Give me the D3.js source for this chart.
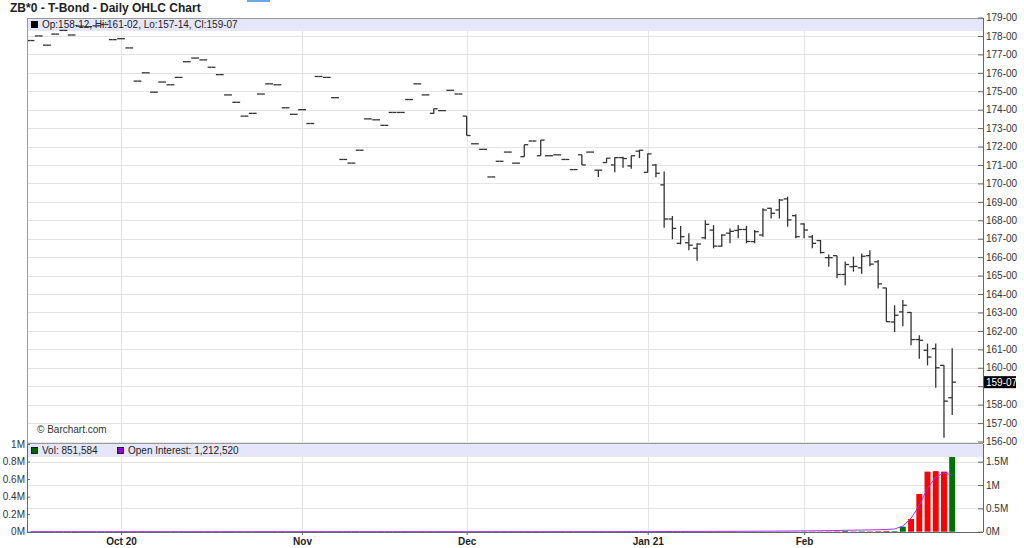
<!DOCTYPE html>
<html>
<head>
<meta charset="utf-8">
<script src="https://cdn.jsdelivr.net/npm/d3@7"></script>
<style>
  body { margin: 0; background: #fff; }
  svg text { font-family: "Liberation Sans", Arial, sans-serif; }
</style>
</head>
<body>
<div id="chart"></div>
<script>
// trading days shown on the chart
const tradeDates = [
  "2020-09-16","2020-09-17","2020-09-18","2020-09-21","2020-09-22","2020-09-23","2020-09-24","2020-09-25","2020-09-28","2020-09-29","2020-09-30",
  "2020-10-01","2020-10-02","2020-10-05","2020-10-06","2020-10-07","2020-10-08","2020-10-09","2020-10-12","2020-10-13","2020-10-14","2020-10-15",
  "2020-10-16","2020-10-19","2020-10-20","2020-10-21","2020-10-22","2020-10-23","2020-10-26","2020-10-27","2020-10-28","2020-10-29","2020-10-30",
  "2020-11-02","2020-11-03","2020-11-04","2020-11-05","2020-11-06","2020-11-09","2020-11-10","2020-11-11","2020-11-12","2020-11-13",
  "2020-11-16","2020-11-17","2020-11-18","2020-11-19","2020-11-20","2020-11-23","2020-11-24","2020-11-25","2020-11-27","2020-11-30",
  "2020-12-01","2020-12-02","2020-12-03","2020-12-04","2020-12-07","2020-12-08","2020-12-09","2020-12-10","2020-12-11","2020-12-14","2020-12-15",
  "2020-12-16","2020-12-17","2020-12-18","2020-12-21","2020-12-22","2020-12-23","2020-12-24","2020-12-28","2020-12-29","2020-12-30","2020-12-31",
  "2021-01-04","2021-01-05","2021-01-06","2021-01-07","2021-01-08","2021-01-11","2021-01-12","2021-01-13","2021-01-14","2021-01-15",
  "2021-01-19","2021-01-20","2021-01-21","2021-01-22","2021-01-25","2021-01-26","2021-01-27","2021-01-28","2021-01-29",
  "2021-02-01","2021-02-02","2021-02-03","2021-02-04","2021-02-05","2021-02-08","2021-02-09","2021-02-10","2021-02-11","2021-02-12",
  "2021-02-16","2021-02-17","2021-02-18","2021-02-19","2021-02-22","2021-02-23","2021-02-24","2021-02-25","2021-02-26"
];

const openPx = [
  177.75,178.0,177.5,178.1,178.3,178.05,178.53,178.5,178.55,178.62,177.8,
  177.85,177.35,175.55,176.0,174.95,175.5,175.35,175.75,176.6,176.8,176.7,
  176.3,175.9,174.8,174.4,173.65,173.8,174.85,175.4,175.35,174.1,173.75,
  174.0,173.25,175.8,175.75,174.65,171.3,171.1,171.8,173.5,173.45,
  173.15,173.85,173.85,174.55,175.4,174.8,173.8,173.95,175.05,174.85,
  173.65,172.15,171.85,170.35,171.2,171.7,171.1,171.45,172.3,171.5,171.5,
  171.55,171.3,170.75,171.55,171.7,170.72,171.13,171.0,171.4,170.95,171.75,
  170.6,171.0,169.92,168.07,166.75,166.78,166.48,167.05,167.47,166.6,
  167.3,167.45,167.5,166.84,167.2,168.65,168.56,169.16,168.25,
  167.8,167.1,166.9,165.97,166.08,165.06,165.48,165.42,166.08,165.75,
  164.33,162.48,163.03,163.0,161.53,160.95,161.04,160.13,158.375
];
const highPx = [
  177.75,178.0,177.5,178.1,178.3,178.05,178.53,178.5,178.55,178.62,177.8,
  177.85,177.35,175.55,176.0,174.95,175.5,175.35,175.75,176.6,176.8,176.7,
  176.3,175.9,174.8,174.4,173.65,173.8,174.85,175.4,175.35,174.1,173.75,
  174.0,173.25,175.8,175.75,174.65,171.3,171.1,171.8,173.5,173.45,
  173.15,173.85,173.85,174.55,175.4,174.8,174.05,173.95,175.05,174.85,
  173.65,172.15,171.85,170.35,171.2,171.7,171.1,172.1,172.3,172.35,171.5,
  171.55,171.3,170.75,171.55,171.7,170.72,171.37,171.42,171.45,171.5,171.82,
  171.62,171.05,170.65,168.23,167.69,167.29,166.75,168.0,167.74,167.24,
  167.56,167.74,167.7,167.47,168.65,168.68,169.16,169.28,168.33,
  167.84,167.2,166.93,166.15,166.08,165.76,166.03,166.2,166.38,165.84,
  164.33,163.39,163.67,163.03,161.76,161.31,161.31,160.13,161.0625
];
const lowPx = [
  177.75,178.0,177.5,178.1,178.3,178.05,178.53,178.5,178.55,178.62,177.8,
  177.85,177.35,175.55,176.0,174.95,175.5,175.35,175.75,176.6,176.8,176.7,
  176.3,175.9,174.8,174.4,173.65,173.8,174.85,175.4,175.35,174.1,173.75,
  174.0,173.25,175.8,175.75,174.65,171.3,171.1,171.8,173.5,173.45,
  173.15,173.85,173.85,174.55,175.4,174.8,173.78,173.95,175.05,174.85,
  172.6,172.15,171.85,170.35,171.2,171.7,171.1,171.45,172.3,171.5,171.5,
  171.55,171.3,170.75,171.0,171.7,170.35,171.13,170.6,170.85,170.8,171.37,
  170.59,170.33,167.6,166.97,166.69,166.38,165.8,166.97,166.48,166.57,
  166.75,167.02,166.75,166.75,167.11,168.1,168.1,167.65,167.02,
  167.02,166.48,166.2,165.48,164.85,164.48,165.21,165.1,165.5,164.3,
  162.48,161.94,162.25,161.22,160.49,160.13,158.92,156.2,157.4375
];
const closePx = [
  177.75,178.0,177.5,178.1,178.3,178.05,178.53,178.5,178.55,178.62,177.8,
  177.85,177.35,175.55,176.0,174.95,175.5,175.35,175.75,176.6,176.8,176.7,
  176.3,175.9,174.8,174.4,173.65,173.8,174.85,175.4,175.35,174.1,173.75,
  174.0,173.25,175.8,175.75,174.65,171.3,171.1,171.8,173.5,173.45,
  173.15,173.85,173.85,174.55,175.4,174.8,174.05,173.95,175.05,174.85,
  172.6,172.15,171.85,170.35,171.2,171.7,171.1,172.1,172.3,172.35,171.5,
  171.55,171.3,170.75,171.0,171.7,170.72,171.37,171.4,171.35,171.5,171.8,
  171.6,170.55,168.07,167.56,167.11,166.65,166.71,167.78,166.6,167.2,
  167.4,167.5,166.85,167.38,168.56,168.38,169.1,168.02,167.11,
  167.47,166.75,166.25,165.97,165.06,165.6,165.5,166.05,165.62,164.55,
  162.5,162.85,163.39,161.53,161.49,160.58,160.0,158.19,159.21875
];

const volume = [
  0,0,0,0,0,0,0,0,0,0,0,
  0,0,0,0,0,0,0,0,0,0,0,
  0,0,0,0,0,0,0,0,0,0,0,
  0,0,0,0,0,0,0,0,0,0,
  0,0,0,0,0,0,200,0,0,0,
  300,0,0,0,0,0,0,150,0,250,0,
  0,0,0,200,0,300,400,600,500,700,600,
  900,800,1500,1200,1100,1000,1400,1300,1200,1100,
  900,1000,1300,1200,1800,1500,2000,2500,2200,
  2400,2600,3000,3500,4500,8000,4000,5000,4500,6000,
  9000,7000,57000,145000,430000,685000,690000,685000,851584
];
const openInterest = [
  1150,1150,1160,1160,1160,1170,1170,1170,1180,1180,1180,
  1190,1190,1200,1200,1210,1210,1220,1220,1230,1230,1240,
  1240,1250,1250,1260,1260,1270,1270,1280,1280,1290,1290,
  1300,1300,1310,1310,1320,1320,1330,1330,1340,1340,
  1350,1350,1360,1360,1370,1370,1380,1400,1400,1410,
  1450,1450,1460,1460,1470,1470,1480,1500,1500,1550,1550,
  1560,1560,1570,1600,1600,1700,1800,2000,2200,2400,2600,
  2900,3200,3900,4500,5000,5500,6200,6800,7400,8000,
  8400,8900,9500,10000,11000,11800,12900,14400,15700,
  17100,18600,20500,22700,25600,29600,32200,35500,38100,41800,
  47300,58000,120000,290000,560000,930000,1170000,1260000,1212520
];

const monthStarts = ["2020-10-01","2020-11-02","2020-12-01","2021-01-04","2021-02-01"];
const monthLabels = ["Oct 20","Nov","Dec","Jan 21","Feb"];
const priceTicks = d3.range(156, 180);
const volTicks = [0, 200000, 400000, 600000, 800000, 1000000];
const oiTicks = [0, 500000, 1000000, 1500000];

const width = 1024, height = 548;
const plotLeft = 27, plotRight = 983;
const mainTop = 18, mainBottom = 443;
const volTop = 444, volBottom = 532;

const bars = tradeDates.map((d, i) => ({
  date: d, open: openPx[i], high: highPx[i], low: lowPx[i], close: closePx[i],
  vol: volume[i], oi: openInterest[i],
  up: i === 0 ? true : closePx[i] >= closePx[i - 1]
}));

// 32nds price format like 159-07
function fmt32(v) {
  let whole = Math.floor(v);
  let n = Math.round((v - whole) * 32);
  if (n === 32) { whole += 1; n = 0; }
  return whole + "-" + String(n).padStart(2, "0");
}

const svg = d3.select("#chart").append("svg")
  .attr("width", width).attr("height", height);

const x = d3.scalePoint().domain(tradeDates).range([30.5, 952.2]);
const y = d3.scaleLinear().domain([156, 179]).range([441.5, 17.5]);
const yVol = d3.scaleLinear().domain([0, 1000000]).range([531.7, 444]);
const yOi = d3.scaleLinear().domain([0, 1500000]).range([531.7, 461.7]);
const step = x.step();
const last = { ...bars[bars.length - 1] };

// title
svg.append("text").attr("x", 10).attr("y", 12)
  .style("font-size", "12px").style("font-weight", "bold").attr("fill", "#222")
  .text("ZB*0 - T-Bond - Daily OHLC Chart");
svg.append("rect").attr("x", 247).attr("y", 0).attr("width", 23).attr("height", 2).attr("fill", "#6aa6e8");

// grid
const grid = svg.append("g").attr("shape-rendering", "crispEdges");
grid.selectAll(".hg").data(priceTicks).join("line")
  .attr("x1", plotLeft).attr("x2", plotRight)
  .attr("y1", d => Math.round(y(d)) + 0.5).attr("y2", d => Math.round(y(d)) + 0.5)
  .attr("stroke", "#e4e4e4");
grid.selectAll(".vg").data(monthStarts).join("line")
  .attr("x1", d => Math.round(x(d)) + 0.5).attr("x2", d => Math.round(x(d)) + 0.5)
  .attr("y1", mainTop).attr("y2", volBottom)
  .attr("stroke", "#e4e4e4");
grid.selectAll(".og").data(oiTicks.slice(1)).join("line")
  .attr("x1", plotLeft).attr("x2", plotRight)
  .attr("y1", d => Math.round(yOi(d)) + 0.5).attr("y2", d => Math.round(yOi(d)) + 0.5)
  .attr("stroke", "#e4e4e4");

// header bands
svg.append("rect").attr("x", plotLeft).attr("y", mainTop).attr("width", plotRight - plotLeft).attr("height", 13)
  .attr("fill", "#e6e6fa");
svg.append("rect").attr("x", 31).attr("y", 21).attr("width", 7).attr("height", 7).attr("fill", "#000");
svg.append("text").attr("x", 42).attr("y", 28).style("font-size", "10px").attr("fill", "#222")
  .text(`Op:${fmt32(last.open)}, Hi:${fmt32(last.high)}, Lo:${fmt32(last.low)}, Cl:${fmt32(last.close)}`);

svg.append("rect").attr("x", plotLeft).attr("y", volTop).attr("width", plotRight - plotLeft).attr("height", 13)
  .attr("fill", "#e6e6fa");
svg.append("rect").attr("x", 31.5).attr("y", 447.5).attr("width", 6).attr("height", 6)
  .attr("fill", "#006400").attr("stroke", "#000").attr("stroke-width", 0.8);
svg.append("text").attr("x", 42).attr("y", 454).style("font-size", "10px").attr("fill", "#222")
  .text("Vol: " + d3.format(",")(last.vol));
svg.append("rect").attr("x", 117.5).attr("y", 447.5).attr("width", 6).attr("height", 6)
  .attr("fill", "#9400d3").attr("stroke", "#000").attr("stroke-width", 0.8);
svg.append("text").attr("x", 128).attr("y", 454).style("font-size", "10px").attr("fill", "#222")
  .text("Open Interest: " + d3.format(",")(last.oi));

// OHLC bars
svg.append("clipPath").attr("id", "mainClip").append("rect")
  .attr("x", plotLeft).attr("y", mainTop).attr("width", plotRight - plotLeft).attr("height", mainBottom - mainTop);
const ohlc = svg.append("g").attr("clip-path", "url(#mainClip)")
  .attr("stroke", "#333").attr("stroke-width", 1.3).attr("fill", "none");
const half = 3.9;
const g = ohlc.selectAll("g").data(bars).join("g");
g.append("line")
  .attr("x1", d => x(d.date)).attr("x2", d => x(d.date))
  .attr("y1", d => y(d.high)).attr("y2", d => y(d.low));
g.append("line")
  .attr("x1", d => x(d.date) - half).attr("x2", d => x(d.date))
  .attr("y1", d => y(d.open)).attr("y2", d => y(d.open));
g.append("line")
  .attr("x1", d => x(d.date)).attr("x2", d => x(d.date) + half)
  .attr("y1", d => y(d.close)).attr("y2", d => y(d.close));

// volume bars
const bw = step * 0.72;
svg.append("g").selectAll("rect").data(bars.filter(d => d.vol > 0)).join("rect")
  .attr("x", d => x(d.date) - bw / 2).attr("width", bw)
  .attr("y", d => yVol(d.vol)).attr("height", d => yVol(0) - yVol(d.vol))
  .attr("fill", d => d.up ? "#007000" : "#ff0000");

// open interest line
svg.append("path").datum(bars)
  .attr("fill", "none").attr("stroke", "#9933ff").attr("stroke-width", 1)
  .attr("d", d3.line().x(d => x(d.date)).y(d => yOi(d.oi)));

// frame lines
svg.append("line").attr("x1", plotLeft + 0.5).attr("x2", plotLeft + 0.5).attr("y1", mainTop).attr("y2", mainBottom)
  .attr("stroke", "#999");
svg.append("line").attr("x1", plotLeft).attr("x2", plotRight).attr("y1", mainTop + 0.5).attr("y2", mainTop + 0.5)
  .attr("stroke", "#999");
svg.append("line").attr("x1", plotLeft).attr("x2", plotRight).attr("y1", volTop - 0.5).attr("y2", volTop - 0.5)
  .attr("stroke", "#999");

// price axis; the label under the last-price tag is left out
const tagY = y(last.close);
const pAxis = svg.append("g").attr("transform", `translate(${plotRight},0)`)
  .call(d3.axisRight(y).tickValues(priceTicks).tickFormat(fmt32).tickSize(-5).tickSizeOuter(0).tickPadding(3));
pAxis.select(".domain").attr("stroke", "#666").attr("d", `M0.5,${mainTop}V${mainBottom}`);
pAxis.selectAll(".tick line").attr("stroke", "#666");
pAxis.selectAll("text").style("font-size", "10px").attr("fill", "#333")
  .filter(d => Math.abs(y(d) - tagY) < 11).remove();

// last price tag
svg.append("rect").attr("x", 984).attr("y", tagY - 6).attr("width", 32).attr("height", 12).attr("fill", "#000");
svg.append("text").attr("x", 986).attr("y", tagY + 3.5).style("font-size", "10px").attr("fill", "#fff")
  .text(fmt32(last.close));

// volume axis (left)
const vAxis = svg.append("g").attr("transform", `translate(${plotLeft},0)`)
  .call(d3.axisLeft(yVol).tickValues(volTicks).tickFormat(d => (d / 1e6) + "M").tickSize(-3).tickSizeOuter(0).tickPadding(2));
vAxis.select(".domain").attr("stroke", "#666");
vAxis.selectAll(".tick line").attr("stroke", "#666");
vAxis.selectAll("text").style("font-size", "10px").attr("fill", "#333");

// open interest axis (right)
const oAxis = svg.append("g").attr("transform", `translate(${plotRight},0)`)
  .call(d3.axisRight(yOi).tickValues(oiTicks).tickFormat(d => (d / 1e6) + "M").tickSize(-5).tickSizeOuter(0).tickPadding(3));
oAxis.select(".domain").attr("stroke", "#666").attr("d", `M0.5,${volTop}V${volBottom}`);
oAxis.selectAll(".tick line").attr("stroke", "#666");
oAxis.selectAll("text").style("font-size", "10px").attr("fill", "#333");

// date axis
const xAxis = svg.append("g").attr("transform", `translate(0,${volBottom})`)
  .call(d3.axisBottom(x).tickValues(monthStarts).tickFormat((d, i) => monthLabels[i]).tickSize(3).tickSizeOuter(0));
xAxis.select(".domain").attr("stroke", "#666").attr("d", `M${plotLeft},0.5H${plotRight}`);
xAxis.selectAll(".tick line").attr("stroke", "#666");
xAxis.selectAll("text").style("font-size", "10px").style("font-weight", "bold").attr("fill", "#222");

// watermark
svg.append("text").attr("x", 37).attr("y", 433).style("font-size", "10px").attr("fill", "#333")
  .text("\u00a9 Barchart.com");
</script>
</body>
</html>
